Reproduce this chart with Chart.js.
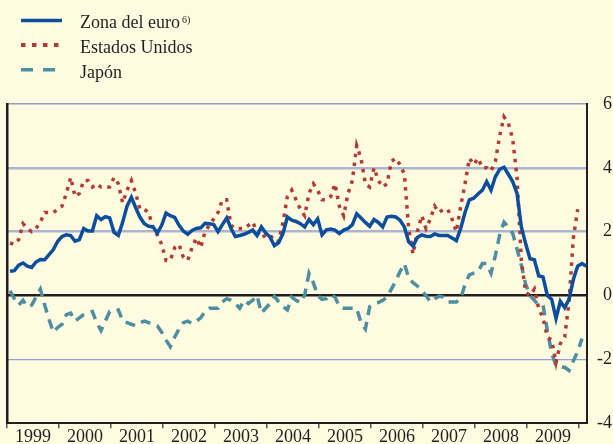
<!DOCTYPE html>
<html lang="es">
<head>
<meta charset="utf-8">
<title>Inflación: zona del euro, Estados Unidos y Japón</title>
<script src="https://cdn.jsdelivr.net/npm/chart.js@4.4.1/dist/chart.umd.min.js"></script>
<style>
  html, body { margin: 0; padding: 0; background: #fffbe1; }
  #wrap { width: 613px; height: 444px; }
</style>
</head>
<body>
<div id="wrap"><canvas id="inflationChart" width="613" height="444"></canvas></div>
<script>
'use strict';

const yearLabels = ['1999', '2000', '2001', '2002', '2003', '2004', '2005', '2006', '2007', '2008', '2009'];
const yTicks = [-4, -2, 0, 2, 4, 6];
const seriesNames = ['Zona del euro', 'Estados Unidos', 'Japón'];
const euroNote = '6)';

// monthly annual rates, Jan 1999 onwards
const zonaEuro = [
  0.76, 0.78, 0.95, 1.02, 0.92, 0.88, 1.05, 1.13, 1.12, 1.28, 1.44, 1.70,
  1.85, 1.90, 1.88, 1.70, 1.75, 2.10, 2.02, 2.02, 2.50, 2.38, 2.47, 2.43,
  1.98, 1.88, 2.30, 2.80, 3.08, 2.75, 2.45, 2.25, 2.17, 2.15, 1.96, 2.20,
  2.58, 2.50, 2.45, 2.20, 2.02, 1.92, 2.04, 2.10, 2.12, 2.26, 2.25, 2.22,
  2.00, 2.22, 2.43, 2.10, 1.85, 1.88, 1.92, 1.98, 2.05, 1.88, 2.15, 1.96,
  1.83, 1.56, 1.66, 1.95, 2.46, 2.36, 2.32, 2.25, 2.15, 2.38, 2.22, 2.40,
  1.90, 2.06, 2.08, 2.05, 1.94, 2.05, 2.10, 2.22, 2.56, 2.43, 2.29, 2.17,
  2.38, 2.29, 2.15, 2.46, 2.48, 2.46, 2.36, 2.15, 1.68, 1.55, 1.82, 1.90,
  1.86, 1.85, 1.93, 1.88, 1.88, 1.88, 1.80, 1.72, 2.10, 2.60, 3.00, 3.05,
  3.18, 3.30, 3.57, 3.30, 3.72, 3.95, 4.02, 3.80, 3.57, 3.20, 2.15, 1.62,
  1.15, 1.12, 0.62, 0.58, 0.00, -0.12, -0.72, -0.18, -0.38, -0.12, 0.50, 0.92,
  1.00, 0.92
];

const estadosUnidos = [
  1.65, 1.60, 1.75, 2.25, 2.10, 2.00, 2.10, 2.30, 2.60, 2.60, 2.60, 2.70,
  2.80, 3.20, 3.70, 3.10, 3.20, 3.60, 3.60, 3.40, 3.50, 3.40, 3.40, 3.40,
  3.70, 3.50, 2.90, 3.30, 3.60, 3.20, 2.70, 2.70, 2.60, 2.10, 1.90, 1.60,
  1.10, 1.10, 1.50, 1.60, 1.20, 1.10, 1.50, 1.80, 1.50, 2.00, 2.20, 2.40,
  2.60, 3.00, 3.00, 2.20, 2.10, 2.10, 2.10, 2.20, 2.30, 2.00, 1.80, 1.90,
  1.90, 1.70, 1.70, 2.30, 3.10, 3.30, 3.00, 2.70, 2.50, 3.20, 3.50, 3.30,
  3.00, 3.00, 3.10, 3.50, 2.80, 2.50, 3.20, 3.60, 4.70, 4.30, 3.50, 3.40,
  4.00, 3.60, 3.40, 3.50, 4.20, 4.30, 4.10, 3.80, 2.10, 1.30, 2.00, 2.50,
  2.10, 2.40, 2.80, 2.60, 2.70, 2.70, 2.40, 2.00, 2.80, 3.50, 4.30, 4.10,
  4.30, 4.00, 4.00, 3.90, 4.20, 5.00, 5.60, 5.40, 4.90, 3.70, 1.10, 0.10,
  0.00, 0.20, -0.40, -0.70, -1.30, -1.40, -2.10, -1.50, -1.30, -0.20, 1.80, 2.70
];

const japon = [
  0.15, -0.10, -0.30, -0.15, -0.35, -0.30, -0.05, 0.20, -0.30, -0.75, -1.15, -1.00,
  -0.90, -0.60, -0.55, -0.80, -0.70, -0.60, -0.55, -0.50, -0.85, -1.10, -0.80, -0.50,
  -0.50, -0.45, -0.80, -0.85, -0.90, -0.95, -0.85, -0.80, -0.85, -0.90, -0.95, -1.15,
  -1.40, -1.60, -1.30, -1.05, -0.85, -0.80, -0.88, -0.80, -0.70, -0.50, -0.40, -0.40,
  -0.40, -0.20, -0.10, -0.15, -0.25, -0.40, -0.15, -0.25, -0.15, 0.00, -0.55, -0.40,
  -0.25, -0.02, -0.20, -0.35, -0.45, -0.05, -0.15, -0.23, 0.02, 0.70, 0.40, 0.00,
  -0.12, -0.10, 0.03, -0.05, -0.35, -0.40, -0.40, -0.40, -0.40, -0.85, -1.05, -0.35,
  -0.25, -0.22, -0.15, -0.05, 0.20, 0.45, 0.75, 1.00, 0.55, 0.40, 0.30, 0.15,
  0.00, -0.20, -0.10, -0.02, -0.05, -0.20, -0.20, -0.20, -0.10, 0.35, 0.65, 0.70,
  0.75, 1.00, 1.00, 0.70, 1.25, 1.90, 2.30, 2.15, 1.95, 1.45, 0.95, 0.35,
  0.00, -0.15, -0.30, -0.30, -1.10, -1.80, -2.20, -2.25, -2.25, -2.35, -2.05, -1.75,
  -1.35
];

const SERIF = "'Liberation Serif', 'Times New Roman', serif";
const INK = '#231f20';
const colors = ['#0b4f9c', '#b23b34', '#4d8ea1'];
const chartDash = [[], [3.5, 5.5], [10, 7]];
const keyDash = [[], [4.5, 6.5], [12, 10]];

// months shown on the x axis (Jan 1999 .. ~Feb 2010)
const X_MAX = 133.85;
const toPoints = vals => vals.map((v, i) => ({ x: i + 0.7, y: v }));

// tick marks at each January, year labels mid-year
const xTickValues = [];
yearLabels.forEach((_, k) => xTickValues.push(k * 12, k * 12 + 6));
xTickValues.push(yearLabels.length * 12);

function gridColor(v) {
  if (v === 0 || v === -4) return INK;
  if (v === 6) return '#8f9fc2';
  if (v === -2) return '#8aa2d8';
  return '#aab5cf';
}
function gridWidth(v) {
  if (v === 0) return 2.5;
  if (v === -4) return 2;
  if (v === 6) return 1.5;
  if (v === -2) return 1.2;
  return 2.5;
}

const seriesKey = {
  id: 'seriesKey',
  afterDraw(chart) {
    const ctx = chart.ctx;
    ctx.save();
    chart.data.datasets.forEach((ds, k) => {
      const lineY = 20.5 + k * 24.6;
      ctx.beginPath();
      ctx.setLineDash(keyDash[k]);
      ctx.lineWidth = k === 1 ? 4 : 3.5;
      ctx.lineCap = 'butt';
      ctx.strokeStyle = ds.borderColor;
      ctx.moveTo(21, lineY);
      ctx.lineTo(62, lineY);
      ctx.stroke();
      ctx.setLineDash([]);

      ctx.fillStyle = INK;
      ctx.textBaseline = 'alphabetic';
      ctx.textAlign = 'left';
      ctx.font = '18px ' + SERIF;
      ctx.fillText(ds.label, 80, 28.3 + k * 24.6);
      if (k === 0) {
        const w = ctx.measureText(ds.label).width;
        ctx.font = '10px ' + SERIF;
        ctx.fillText(euroNote, 80 + w + 2, 22.5);
      }
    });
    ctx.restore();
  }
};

const series = [zonaEuro, estadosUnidos, japon];

new Chart(document.getElementById('inflationChart'), {
  type: 'line',
  data: {
    datasets: series.map((vals, k) => ({
      label: seriesNames[k],
      data: toPoints(vals),
      borderColor: colors[k],
      borderWidth: 3.5,
      borderDash: chartDash[k],
      borderCapStyle: 'butt',
      borderJoinStyle: 'miter',
      pointRadius: 0,
      tension: 0,
      fill: false
    }))
  },
  options: {
    responsive: false,
    animation: false,
    devicePixelRatio: 1,
    layout: { padding: { top: 104, left: 7, right: 1, bottom: 0 } },
    plugins: { legend: { display: false }, tooltip: { enabled: false } },
    scales: {
      x: {
        type: 'linear',
        min: 0,
        max: X_MAX,
        afterBuildTicks: s => { s.ticks = xTickValues.map(v => ({ value: v })); },
        afterFit: s => { s.height = 20; },
        ticks: {
          autoSkip: false,
          maxRotation: 0,
          padding: 0,
          color: INK,
          font: { family: SERIF, size: 18, lineHeight: 1 },
          callback: v => (v % 12 === 6 ? yearLabels[(v - 6) / 12] : '')
        },
        grid: {
          drawOnChartArea: false,
          drawTicks: true,
          tickLength: 5,
          lineWidth: 1.5,
          tickColor: ctx => (ctx.tick && ctx.tick.value % 12 === 0 ? '#555555' : 'rgba(0,0,0,0)')
        },
        border: { display: true, color: INK, width: 2 }
      },
      y: {
        type: 'linear',
        position: 'right',
        min: -4,
        max: 6,
        afterBuildTicks: s => { s.ticks = yTicks.map(v => ({ value: v })); },
        afterFit: s => { s.width = 25; },
        ticks: {
          crossAlign: 'far',
          padding: 10,
          color: INK,
          font: { family: SERIF, size: 18 },
          callback: v => String(v)
        },
        grid: {
          drawTicks: false,
          color: ctx => (ctx.tick ? gridColor(ctx.tick.value) : INK),
          lineWidth: ctx => (ctx.tick ? gridWidth(ctx.tick.value) : 1)
        },
        border: { display: true, color: INK, width: 2 }
      },
      yLeft: {
        type: 'linear',
        position: 'left',
        min: -4,
        max: 6,
        ticks: { display: false },
        grid: { display: false, drawTicks: false },
        border: { display: true, color: INK, width: 2.5 }
      }
    }
  },
  plugins: [seriesKey]
});
</script>
</body>
</html>
